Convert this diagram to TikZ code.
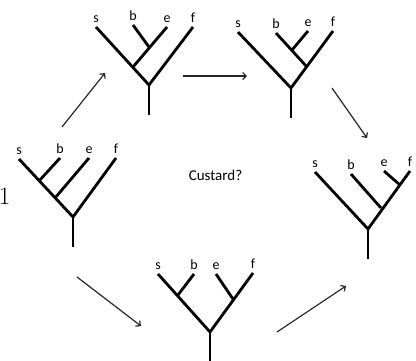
\documentclass[tikz,border=0pt]{standalone}
\usepackage{fontspec}
\setsansfont{Carlito}
\usetikzlibrary{arrows.meta}
\tikzset{
  branch/.style={line width=2.8pt},
  leaf/.style={font=\sffamily\fontsize{14}{14}\selectfont, anchor=south, inner sep=0pt,
    text height=1.5ex, text depth=0pt, yshift=4pt},
  move/.style={line width=1.2pt, draw=black!85, -{Straight Barb[length=3.5pt,width=7pt]}}
}

\begin{document}
\begin{tikzpicture}[x=1pt,y=-1pt]
\useasboundingbox (0,0) rectangle (416,360);

% Arvore 1: ((s,b),e),f
\begin{scope}[shift={(73,217)}]
\coordinate (t1r) at (0,0);
\coordinate (t1bot) at (0,30);
\coordinate (t1s) at (-54,-58);
\coordinate (t1b) at (-13,-59);
\coordinate (t1e) at (16,-59);
\coordinate (t1f) at (43,-59);
\coordinate (t1j1) at (-34,-36);
\coordinate (t1j2) at (-18,-19);
\draw[branch] (t1s) -- (t1r) -- (t1f);
\draw[branch] (t1r) -- (t1bot);
\draw[branch] (t1j1) -- (t1b);
\draw[branch] (t1j2) -- (t1e);
\foreach \n in {s,b,e,f} {
    \node[leaf] (l1\n) at (t1\n) {\n};
}
\end{scope}
\node[anchor=base east, inner sep=0pt, font=\fontsize{25}{25}\selectfont] (num) at (10.5,204) {1};

% Arvore 2: (s,(b,e)),f
\begin{scope}[shift={(149,85)}]
\coordinate (t2r) at (0,0);
\coordinate (t2bot) at (0,30);
\coordinate (t2s) at (-53,-58);
\coordinate (t2b) at (-16,-60);
\coordinate (t2e) at (18,-58);
\coordinate (t2f) at (44,-58);
\coordinate (t2j1) at (-16,-18);
\coordinate (t2j2) at (0,-38);
\draw[branch] (t2s) -- (t2r) -- (t2f);
\draw[branch] (t2r) -- (t2bot);
\draw[branch] (t2j1) -- (t2e);
\draw[branch] (t2j2) -- (t2b);
\foreach \n in {s,b,e,f} {
    \node[leaf] (l2\n) at (t2\n) {\n};
}
\end{scope}

% Arvore 3: s,((b,e),f)
\begin{scope}[shift={(291,88)}]
\coordinate (t3r) at (0,0);
\coordinate (t3bot) at (0,30);
\coordinate (t3s) at (-53,-56);
\coordinate (t3b) at (-15,-55);
\coordinate (t3e) at (17,-57);
\coordinate (t3f) at (42,-57);
\coordinate (t3j1) at (16,-21);
\coordinate (t3j2) at (1,-38);
\draw[branch] (t3s) -- (t3r) -- (t3f);
\draw[branch] (t3r) -- (t3bot);
\draw[branch] (t3j1) -- (t3b);
\draw[branch] (t3j2) -- (t3e);
\foreach \n in {s,b,e,f} {
    \node[leaf] (l3\n) at (t3\n) {\n};
}
\end{scope}

% Arvore 4: s,(b,(e,f))
\begin{scope}[shift={(368,229)}]
\coordinate (t4r) at (0,0);
\coordinate (t4bot) at (0,30);
\coordinate (t4s) at (-53,-57);
\coordinate (t4b) at (-17,-55);
\coordinate (t4e) at (16,-58);
\coordinate (t4f) at (42,-58);
\coordinate (t4j1) at (13,-21);
\coordinate (t4j2) at (32,-44);
\draw[branch] (t4s) -- (t4r) -- (t4f);
\draw[branch] (t4r) -- (t4bot);
\draw[branch] (t4j1) -- (t4b);
\draw[branch] (t4j2) -- (t4e);
\foreach \n in {s,b,e,f} {
    \node[leaf] (l4\n) at (t4\n) {\n};
}
\end{scope}

% Arvore 5: (s,b),(e,f)
\begin{scope}[shift={(210,332)}]
\coordinate (t5r) at (0,0);
\coordinate (t5bot) at (0,30);
\coordinate (t5s) at (-52,-58);
\coordinate (t5b) at (-16,-58);
\coordinate (t5e) at (6,-58);
\coordinate (t5f) at (43,-59);
\coordinate (t5j1) at (-32,-37);
\coordinate (t5j2) at (23,-33);
\draw[branch] (t5s) -- (t5r) -- (t5f);
\draw[branch] (t5r) -- (t5bot);
\draw[branch] (t5j1) -- (t5b);
\draw[branch] (t5j2) -- (t5e);
\foreach \n in {s,b,e,f} {
    \node[leaf] (l5\n) at (t5\n) {\n};
}
\end{scope}

% Setas
\coordinate (a1) at (62,127);  \coordinate (a2) at (105,73);
\coordinate (a3) at (183,76);  \coordinate (a4) at (247,76);
\coordinate (a5) at (332,88);  \coordinate (a6) at (367,138);
\coordinate (a7) at (77,277);  \coordinate (a8) at (141,326);
\coordinate (a9) at (277,332); \coordinate (a10) at (346,286);
\draw[move] (a1) -- (a2);
\draw[move] (a3) -- (a4);
\draw[move] (a5) -- (a6);
\draw[move] (a7) -- (a8);
\draw[move] (a9) -- (a10);

\node[font=\sffamily\fontsize{15}{15}\selectfont, inner sep=0pt] (q) at (215.5,175) {Custard?};
\end{tikzpicture}
\end{document}
